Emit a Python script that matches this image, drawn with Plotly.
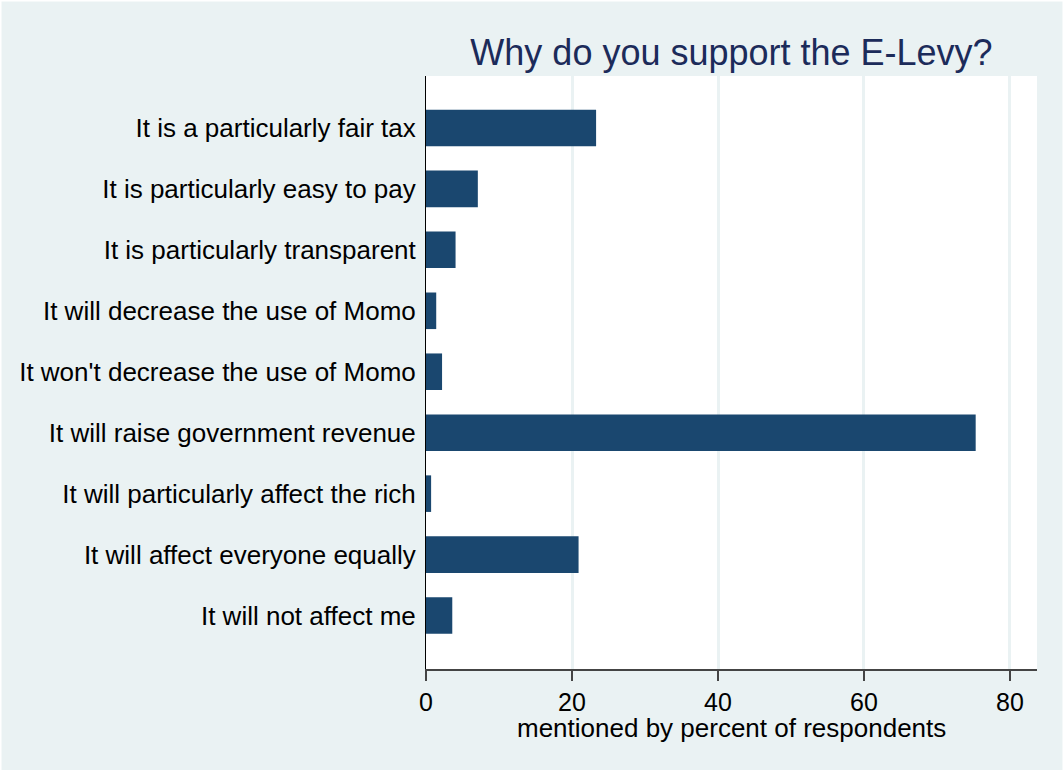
import plotly.graph_objects as go

categories = [
    "It is a particularly fair tax",
    "It is particularly easy to pay",
    "It is particularly transparent",
    "It will decrease the use of Momo",
    "It won't decrease the use of Momo",
    "It will raise government revenue",
    "It will particularly affect the rich",
    "It will affect everyone equally",
    "It will not affect me",
]
values = [23.3, 7.1, 4.05, 1.4, 2.2, 75.3, 0.7, 20.9, 3.6]
x_ticks = [0, 20, 40, 60, 80]
x_title = "mentioned by percent of respondents"

BG = "#EAF2F3"
BAR = "#1A476F"
FONT = "Liberation Sans, Arial, sans-serif"

W, H = 1064, 772
ML, MR, MT, MB = 426, 27, 76, 102.5
pw = W - ML - MR
ph = H - MT - MB

fig = go.Figure(go.Bar(
    x=values,
    y=categories,
    orientation="h",
    marker=dict(color=BAR, line=dict(width=0)),
    width=0.6,
))

fig.update_layout(
    width=W, height=H,
    margin=dict(l=ML, r=MR, t=MT, b=MB, pad=0),
    paper_bgcolor=BG,
    plot_bgcolor="white",
    showlegend=False,
    font=dict(family=FONT, color="black"),
    title=dict(
        text="Why do you support the E-Levy?",
        x=(ML + pw / 2) / W, xanchor="center",
        y=1 - 52 / H, yanchor="middle",
        font=dict(size=36, color="#1C2B5A", family=FONT),
    ),
    xaxis=dict(
        range=[0, 83.7],
        tickvals=x_ticks,
        ticktext=[str(v) for v in x_ticks],
        showgrid=True, gridcolor=BG, gridwidth=2.5,
        zeroline=False,
        showline=True, linecolor="#444444", linewidth=1.5,
        ticks="outside", ticklen=10, tickcolor="#444444", tickwidth=1.5,
        tickfont=dict(size=25, color="black"),
        fixedrange=True,
    ),
    yaxis=dict(
        type="category",
        categoryorder="array", categoryarray=categories,
        range=[8.877, -0.852],
        showgrid=False, zeroline=False,
        showline=True, linecolor="black", linewidth=1,
        ticks="", ticklabelstandoff=4,
        tickfont=dict(size=26, color="black"),
        fixedrange=True,
    ),
    annotations=[dict(
        text=x_title, showarrow=False,
        xref="paper", yref="paper",
        x=0.5, xanchor="center",
        y=(H - MB - 729) / ph, yanchor="middle",
        font=dict(size=26, color="black", family=FONT),
    )],
    shapes=[dict(
        type="rect", xref="paper", yref="paper",
        x0=-ML / pw, x1=(W - ML) / pw,
        y0=-MB / ph, y1=(H - MB) / ph,
        line=dict(color="white", width=3), fillcolor="rgba(0,0,0,0)",
        layer="above",
    )],
)

fig.write_html(
    "out.html",
    config={"displayModeBar": False},
    post_script="document.body.style.margin='0';document.body.style.padding='0';",
)
